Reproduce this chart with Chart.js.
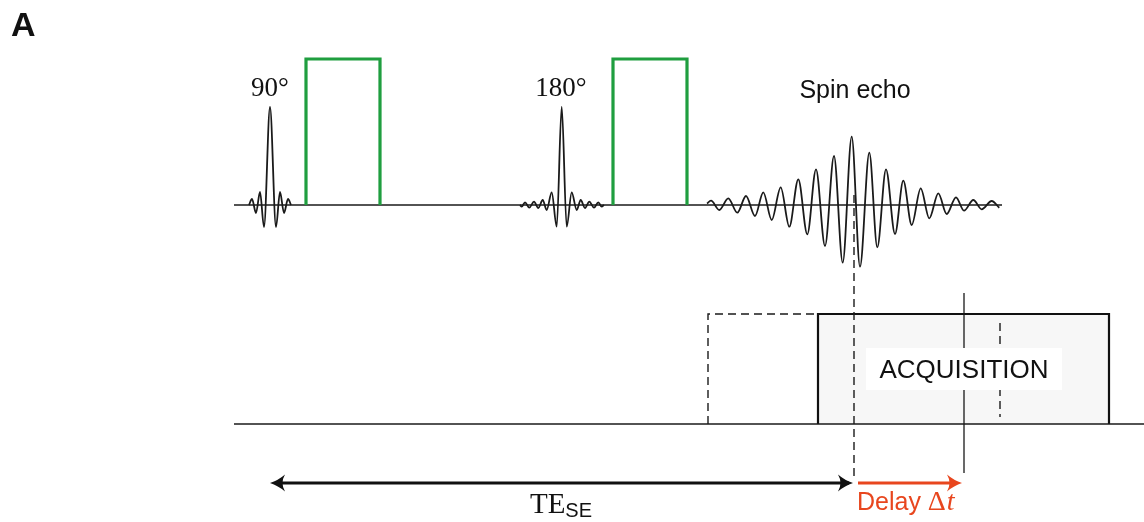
<!DOCTYPE html>
<html>
<head>
<meta charset="utf-8">
<script src="https://cdn.jsdelivr.net/npm/chart.js@4.4.1/dist/chart.umd.min.js"></script>
<style>
  html, body { margin: 0; padding: 0; background: #fff; }
  #wrap { width: 1144px; height: 522px; }
</style>
</head>
<body>
<div id="wrap"><canvas id="myCanvas" width="1144" height="522"></canvas></div>
<script>
// diagram units: x = time (left to right), y = level (top row baseline 205, acquisition row baseline 424)
var pulse90X = [249, 252, 256, 260, 264, 270, 276, 280, 284, 288, 291];
var pulse90Y = [205, 199, 213, 192, 227, 107, 227, 192, 213, 199, 205];

var pulse180X = [520, 521.7, 525, 529.3, 534, 538.3, 542.7, 546.7, 551.7, 556.7, 561.7,
                 566.7, 571.7, 576.7, 580.7, 585, 589.3, 594, 598.3, 601.7, 604];
var pulse180Y = [205, 206.7, 202.3, 207.7, 201.7, 208, 200, 210, 192.3, 226.7, 106.7,
                 226.7, 192.3, 210, 200, 208, 201.7, 207.7, 202.3, 206.7, 205];

var echoX = [707, 711, 719.3, 728.3, 737.3, 746, 755, 763.3, 771.7, 780.7,
             789.3, 798.3, 807.3, 816, 825, 834, 842.7, 851.7, 860, 869.3,
             877.3, 886, 895, 903.3, 911.7, 920.7, 929.3, 938.3, 946.7, 956,
             964, 973.3, 981.7, 991.7, 999.3];
var echoY = [203.5, 200.7, 210, 198.3, 212.7, 196, 216, 192.3, 220, 187.3,
             226.7, 179.3, 234.3, 169.3, 246, 156, 262.7, 136.7, 266.7, 152.7,
             247.3, 169.3, 234, 180.7, 225, 188.3, 218.3, 193.3, 214, 197.3,
             210.7, 200, 209.3, 201, 207.7];

var grad1X = [306, 306, 380, 380];
var grad2X = [613, 613, 687, 687];
var gradY = [205, 59, 59, 205];

var rfLineX = [234, 1002];
var rfLineY = [205, 205];
var acqLineX = [234, 1144];
var acqLineY = [424, 424];

var acqX = [818, 818, 1109, 1109];
var acqY = [424, 314, 314, 424];
var shiftX = [708, 708, 818];
var shiftY = [424, 314, 314];
var shiftEndX = [1000, 1000];
var shiftEndY = [323, 417];

var echoMarkX = [854, 854];
var echoMarkY = [195, 476];
var delayMarkX = [964, 964];
var delayMarkY = [293, 473];

var teArrowX = [275, 849];
var delayArrowX = [858, 957];
var arrowY = [483, 483];

var labels = ["A", "90°", "180°", "Spin echo", "ACQUISITION", "TE", "SE", "Delay ", "Δ", "t"];

function pts(xs, ys) {
    return xs.map(function (x, i) { return {x: x, y: ys[i]}; });
}

function line(xs, ys, color, width, extra) {
    var ds = {
        data: pts(xs, ys),
        showLine: true,
        borderColor: color,
        borderWidth: width,
        pointRadius: 0,
        fill: false,
        tension: 0
    };
    for (var k in extra) ds[k] = extra[k];
    return ds;
}

function arrowHead(ctx, x, y, dir, color) {
    ctx.fillStyle = color;
    ctx.beginPath();
    ctx.moveTo(x, y);
    ctx.quadraticCurveTo(x - dir * 8, y - 2.5, x - dir * 15, y - 8.5);
    ctx.quadraticCurveTo(x - dir * 10, y, x - dir * 15, y + 8.5);
    ctx.quadraticCurveTo(x - dir * 8, y + 2.5, x, y);
    ctx.fill();
}

function drawText(ctx, txt, x, y, font, color, align) {
    ctx.font = font;
    ctx.fillStyle = color;
    ctx.textAlign = align || 'left';
    ctx.textBaseline = 'alphabetic';
    ctx.fillText(txt, x, y);
}

var overlay = {
    id: 'overlay',
    afterDatasetsDraw: function (chart) {
        var ctx = chart.ctx, sx = chart.scales.x, sy = chart.scales.y;
        var px = function (v) { return sx.getPixelForValue(v); };
        var py = function (v) { return sy.getPixelForValue(v); };
        var red = '#e8461e';
        ctx.save();

        arrowHead(ctx, px(270), py(arrowY[0]), -1, '#111');
        arrowHead(ctx, px(853), py(arrowY[0]), 1, '#111');
        arrowHead(ctx, px(962), py(arrowY[0]), 1, red);

        // label background
        ctx.fillStyle = '#fff';
        ctx.fillRect(px(866), py(348), px(1062) - px(866), py(390) - py(348));

        var sans = '"Liberation Sans", Arial, sans-serif';
        var serif = '"Liberation Serif", "DejaVu Serif", serif';
        drawText(ctx, labels[0], px(11), py(36), 'bold 34px ' + sans, '#111');
        drawText(ctx, labels[1], px(270), py(96), '27px ' + serif, '#111', 'center');
        drawText(ctx, labels[2], px(561), py(96), '27px ' + serif, '#111', 'center');
        drawText(ctx, labels[3], px(855), py(98), '25px ' + sans, '#111', 'center');
        drawText(ctx, labels[4], px(964), py(378), '26px ' + sans, '#111', 'center');

        // TE with subscript SE
        ctx.font = '29px ' + serif;
        var w1 = ctx.measureText(labels[5]).width;
        ctx.font = '20px ' + sans;
        var w2 = ctx.measureText(labels[6]).width;
        var x0 = px(561) - (w1 + w2) / 2;
        drawText(ctx, labels[5], x0, py(513), '29px ' + serif, '#111');
        drawText(ctx, labels[6], x0 + w1, py(517), '20px ' + sans, '#111');

        // Delay Δt
        var xd = px(857);
        ctx.font = '25px ' + sans;
        var wd = ctx.measureText(labels[7]).width;
        drawText(ctx, labels[7], xd, py(510), '25px ' + sans, red);
        ctx.font = '28px ' + serif;
        var wD = ctx.measureText(labels[8]).width;
        drawText(ctx, labels[8], xd + wd, py(510), '28px ' + serif, red);
        drawText(ctx, labels[9], xd + wd + wD + 1, py(510), 'italic 28px ' + serif, red);

        ctx.restore();
    }
};

var ink = '#1a1a1a';
var green = '#1f9e3f';
var dash = {borderDash: [8, 5]};
var wave = {cubicInterpolationMode: 'monotone'};

// dataset 0 is drawn on top, the last one at the bottom
new Chart(document.getElementById("myCanvas"), {
    type: 'scatter',
    data: {
        datasets: [
            line(teArrowX, arrowY, '#111', 3),
            line(delayArrowX, arrowY, '#e8461e', 3),
            line(grad1X, gradY, green, 3.2),
            line(grad2X, gradY, green, 3.2),
            line(pulse90X, pulse90Y, ink, 1.8, wave),
            line(pulse180X, pulse180Y, ink, 1.8, wave),
            line(echoX, echoY, ink, 1.8, wave),
            line(shiftX, shiftY, ink, 1.4, dash),
            line(shiftEndX, shiftEndY, ink, 1.4, dash),
            line(echoMarkX, echoMarkY, ink, 1.4, dash),
            line(delayMarkX, delayMarkY, ink, 1.3),
            line(rfLineX, rfLineY, ink, 1.3),
            line(acqLineX, acqLineY, ink, 1.3),
            line(acqX, acqY, '#111', 2.2, {fill: {value: 424}, backgroundColor: '#f7f7f7'})
        ]
    },
    options: {
        responsive: false,
        animation: false,
        devicePixelRatio: 1,
        layout: {padding: 0},
        plugins: {legend: {display: false}, tooltip: {enabled: false}},
        scales: {
            x: {type: 'linear', display: false, min: 0, max: 1144},
            y: {type: 'linear', display: false, min: 0, max: 522, reverse: true}
        }
    },
    plugins: [overlay]
});
</script>
</body>
</html>
